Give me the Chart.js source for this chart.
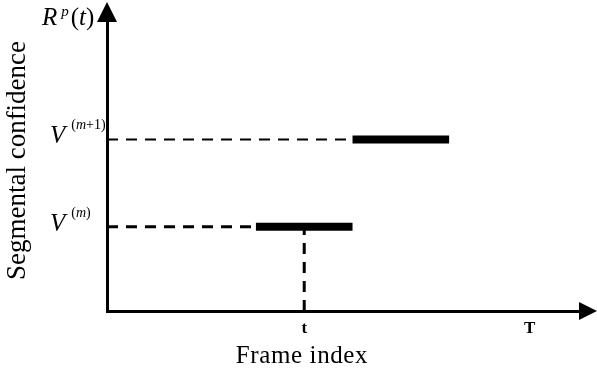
<!DOCTYPE html>
<html>
<head>
<meta charset="utf-8">
<script src="https://cdn.jsdelivr.net/npm/chart.js@4/dist/chart.umd.min.js"></script>
<style>
  html, body { margin: 0; padding: 0; background: #fff; }
  #wrap { width: 597px; height: 368px; }
</style>
</head>
<body>
<div id="wrap"><canvas id="chart"></canvas></div>
<script>
// confidence levels V(m), V(m+1) and where each segment starts / ends
const levels = [2.8, 5.7];
const segStart = [3.7, 6.1];
const segEnd = [6.1, 8.5];
const levelNames = ['(m)', '(m+1)'];

// frame ticks on the x axis
const tickPos = [4.9, 10.5];
const tickLabels = ['t', 'T'];

const serif = '"Liberation Serif", "Times New Roman", serif';

// dashed guide from the y axis to the start of each segment
const guides = levels.map((v, i) => ({
    data: [{x: 0, y: v}, {x: segStart[i], y: v}],
    borderColor: '#000',
    borderWidth: i === 0 ? 3 : 2,
    borderDash: [11, 8],
    pointRadius: 0
}));

// thick segment bars
const bars = levels.map((v, i) => ({
    data: [{x: segStart[i], y: v}, {x: segEnd[i], y: v}],
    borderColor: '#000',
    borderWidth: 8,
    borderCapStyle: 'butt',
    pointRadius: 0
}));

// vertical dashed drop at frame t
const drop = {
    data: [{x: tickPos[0], y: 0}, {x: tickPos[0], y: levels[0]}],
    borderColor: '#000',
    borderWidth: 3,
    borderDash: [11, 8],
    pointRadius: 0
};

function drawRuns(ctx, runs, x, baseline) {
    runs.forEach(r => {
        ctx.font = r.font;
        x += r.gap || 0;
        ctx.fillText(r.text, x, baseline - (r.dy || 0));
        x += ctx.measureText(r.text).width;
    });
}

const annotations = {
    id: 'annotations',
    afterDraw(chart) {
        const ctx = chart.ctx;
        const area = chart.chartArea;
        const ys = chart.scales.y;
        ctx.save();
        ctx.fillStyle = '#000';
        ctx.textAlign = 'left';
        ctx.textBaseline = 'alphabetic';

        // arrow heads
        ctx.beginPath();
        ctx.moveTo(area.left, 2);
        ctx.lineTo(area.left - 10, 22);
        ctx.lineTo(area.left + 10, 22);
        ctx.closePath();
        ctx.fill();
        ctx.beginPath();
        ctx.moveTo(597, area.bottom);
        ctx.lineTo(579, area.bottom - 9);
        ctx.lineTo(579, area.bottom + 9);
        ctx.closePath();
        ctx.fill();

        // level labels with superscripts
        const big = 'italic 25px ' + serif;
        const small = '14px ' + serif;
        const smallIt = 'italic 14px ' + serif;
        levels.forEach((v, i) => {
            const py = ys.getPixelForValue(v);
            const name = levelNames[i];
            drawRuns(ctx, [
                {text: 'V', font: big},
                {text: '(', font: small, dy: 14, gap: 6},
                {text: 'm', font: smallIt, dy: 14},
                {text: name.slice(2), font: small, dy: 14}
            ], 50, py + 4);
        });

        // R^p(t)
        drawRuns(ctx, [
            {text: 'R', font: 'italic 25px ' + serif},
            {text: 'p', font: 'italic 15px ' + serif, dy: 9, gap: 4},
            {text: '(', font: '25px ' + serif, gap: 2},
            {text: 't', font: 'italic 25px ' + serif},
            {text: ')', font: '25px ' + serif}
        ], 42, 25);

        // x axis title
        ctx.font = '25px ' + serif;
        ctx.letterSpacing = '0.6px';
        ctx.textAlign = 'center';
        ctx.fillText('Frame index', 302, 363);
        ctx.restore();
    }
};

new Chart(document.getElementById('chart'), {
    type: 'line',
    data: { datasets: [...guides, ...bars, drop] },
    options: {
        responsive: true,
        maintainAspectRatio: false,
        animation: false,
        layout: { padding: { top: 10, right: 7, left: 0, bottom: 0 } },
        plugins: { legend: { display: false }, tooltip: { enabled: false } },
        scales: {
            x: {
                type: 'linear',
                min: 0,
                max: 12,
                grid: { display: false, drawTicks: false },
                border: { display: true, color: '#000', width: 3 },
                afterBuildTicks: s => { s.ticks = tickPos.map(v => ({ value: v })); },
                ticks: {
                    autoSkip: false,
                    maxRotation: 0,
                    padding: 7,
                    color: '#000',
                    font: { family: serif, size: 17, weight: 'bold' },
                    callback: (v, i) => tickLabels[i]
                },
                afterFit: s => { s.height = 57; }
            },
            y: {
                type: 'linear',
                min: 0,
                max: 10,
                grid: { display: false, drawTicks: false },
                border: { display: true, color: '#000', width: 3 },
                ticks: { display: false },
                title: {
                    display: true,
                    text: 'Segmental confidence',
                    color: '#000',
                    font: { family: serif, size: 27 },
                    padding: { top: 2 }
                },
                afterFit: s => { s.width = 107; }
            }
        }
    },
    plugins: [annotations]
});
</script>
</body>
</html>
